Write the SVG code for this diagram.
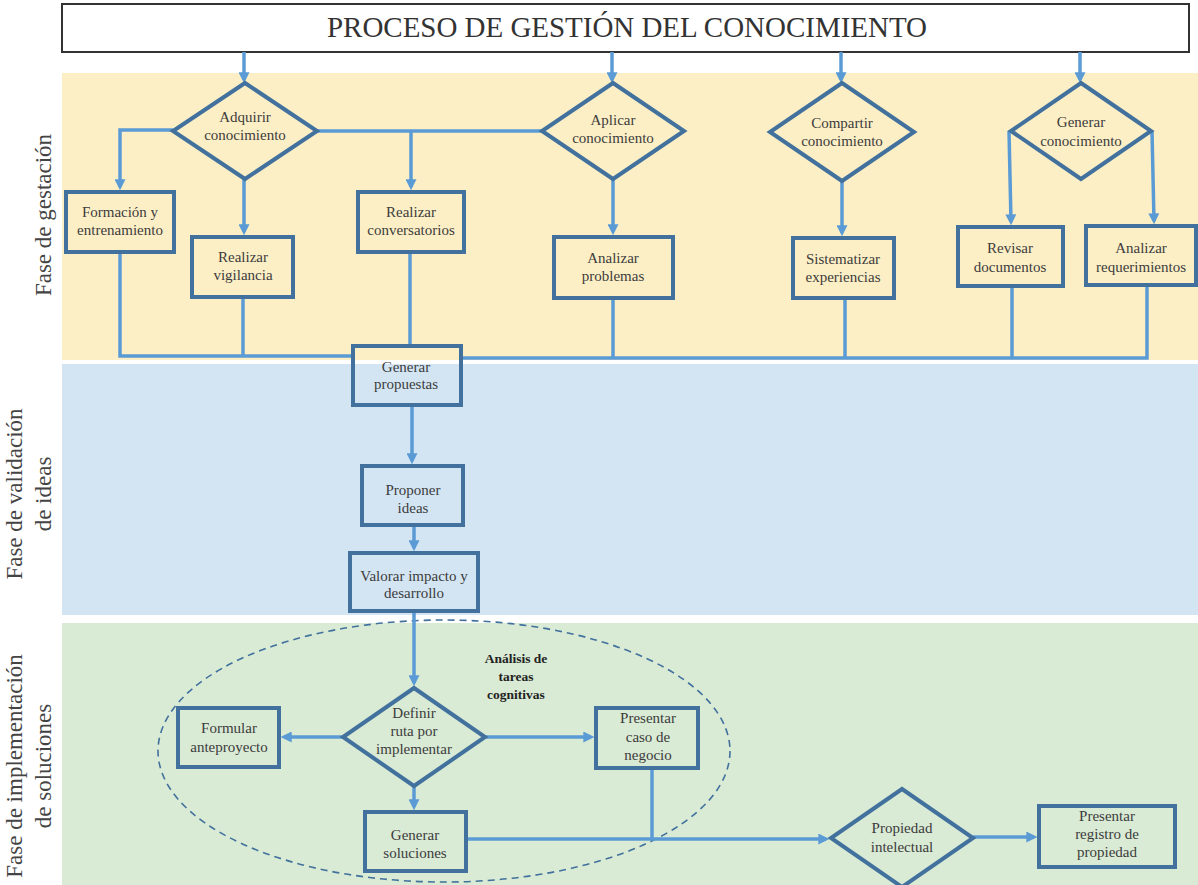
<svg xmlns="http://www.w3.org/2000/svg" width="1198" height="885" viewBox="0 0 1198 885">
  <style>
    .node { fill: none; stroke: #41719c; stroke-width: 4; }
    .lbl { font-family: "Liberation Serif", "DejaVu Serif", serif; font-size: 15px; fill: #3c3c3c; text-anchor: middle; }
    .bold { font-weight: bold; font-size: 13.5px; fill: #222; }
    .side { font-family: "Liberation Serif", "DejaVu Serif", serif; font-size: 23px; fill: #444; text-anchor: middle; }
    .conn { fill: none; stroke: #5b9bd5; stroke-width: 3.5; }
    .arr { marker-end: url(#head); }
  </style>
  <defs>
    <marker id="head" viewBox="0 0 10 10" refX="7" refY="5" markerWidth="11" markerHeight="11" markerUnits="userSpaceOnUse" orient="auto">
      <path d="M0,0 L10,5 L0,10 z" fill="#5b9bd5"/>
    </marker>
  </defs>

  <rect width="1198" height="885" fill="#ffffff"/>

  <!-- phase bands -->
  <g id="bands">
    <rect x="62" y="73" width="1136" height="287" fill="#fcefc6"/>
    <rect x="62" y="364" width="1136" height="251" fill="#d3e5f3"/>
    <rect x="62" y="623" width="1136" height="262" fill="#d9ead5"/>
  </g>

  <!-- phase labels -->
  <g id="phase-labels">
    <text class="side" transform="translate(51,215) rotate(-90)">Fase de gestación</text>
    <text class="side" transform="translate(22,494) rotate(-90)">Fase de validación</text>
    <text class="side" transform="translate(51,494) rotate(-90)">de ideas</text>
    <text class="side" transform="translate(22,766) rotate(-90)">Fase de implementación</text>
    <text class="side" transform="translate(51,766) rotate(-90)">de soluciones</text>
  </g>

  <!-- title -->
  <g id="title">
    <rect x="62" y="4" width="1127" height="48" fill="#ffffff" stroke="#333333" stroke-width="2"/>
    <text x="627" y="37" font-family="Liberation Serif, DejaVu Serif, serif" font-size="29" fill="#333333" text-anchor="middle" textLength="600">PROCESO DE GESTIÓN DEL CONOCIMIENTO</text>
  </g>

  <!-- cognitive-task grouping -->
  <g id="analisis-group">
    <ellipse cx="444" cy="751" rx="286" ry="131" fill="none" stroke="#41719c" stroke-width="1.6" stroke-dasharray="7,5"/>
    <text class="lbl bold" x="516" y="663">Análisis de</text>
    <text class="lbl bold" x="516" y="681">tareas</text>
    <text class="lbl bold" x="516" y="699">cognitivas</text>
  </g>

  <!-- connectors -->
  <g id="connectors">
    <path class="conn arr" d="M244,52 V80"/>
    <path class="conn arr" d="M612,52 V80"/>
    <path class="conn arr" d="M841,52 V80"/>
    <path class="conn arr" d="M1080,52 V80"/>
    <path class="conn arr" d="M173,130 H120 V187"/>
    <path class="conn arr" d="M244,179 V232"/>
    <path class="conn" d="M317,131 H542"/>
    <path class="conn arr" d="M411,131 V187"/>
    <path class="conn arr" d="M613,179 V232"/>
    <path class="conn arr" d="M842,181 V233"/>
    <path class="conn arr" d="M1009,131 L1011,222"/>
    <path class="conn arr" d="M1152,131 L1154,221"/>
    <path class="conn" d="M120,252 V356 H353"/>
    <path class="conn" d="M243,297 V356"/>
    <path class="conn" d="M410,252 V346"/>
    <path class="conn" d="M613,298 V358"/>
    <path class="conn" d="M845,298 V358"/>
    <path class="conn" d="M1012,286 V358"/>
    <path class="conn" d="M1147,285 V358 H461"/>
    <path class="conn arr" d="M412,405 V461"/>
    <path class="conn arr" d="M414,525 V548"/>
    <path class="conn arr" d="M414,611 V683"/>
    <path class="conn arr" d="M343,737 H284"/>
    <path class="conn arr" d="M485,737 H591"/>
    <path class="conn arr" d="M414,786 V807"/>
    <path class="conn arr" d="M466,839 H826"/>
    <path class="conn" d="M652,768 V839"/>
    <path class="conn arr" d="M973,837 H1034"/>
  </g>

  <!-- gestation phase -->
  <g id="adquirir">
    <polygon class="node" points="245,83 317,131 245,179 173,131"/>
    <text class="lbl" x="245" y="122">Adquirir</text>
    <text class="lbl" x="245" y="140">conocimiento</text>
  </g>
  <g id="aplicar">
    <polygon class="node" points="613,83 684,131 613,179 542,131"/>
    <text class="lbl" x="613" y="125">Aplicar</text>
    <text class="lbl" x="613" y="143">conocimiento</text>
  </g>
  <g id="compartir">
    <polygon class="node" points="842,83 914,132 842,181 770,132"/>
    <text class="lbl" x="842" y="128">Compartir</text>
    <text class="lbl" x="842" y="146">conocimiento</text>
  </g>
  <g id="generar-conocimiento">
    <polygon class="node" points="1081,83 1151,131 1081,179 1011,131"/>
    <text class="lbl" x="1081" y="127">Generar</text>
    <text class="lbl" x="1081" y="146">conocimiento</text>
  </g>
  <g id="formacion">
    <rect class="node" x="66" y="192" width="108" height="60"/>
    <text class="lbl" x="120" y="217">Formación y</text>
    <text class="lbl" x="120" y="235">entrenamiento</text>
  </g>
  <g id="vigilancia">
    <rect class="node" x="192" y="237" width="101" height="60"/>
    <text class="lbl" x="243" y="262">Realizar</text>
    <text class="lbl" x="243" y="280">vigilancia</text>
  </g>
  <g id="conversatorios">
    <rect class="node" x="358" y="192" width="106" height="60"/>
    <text class="lbl" x="411" y="217">Realizar</text>
    <text class="lbl" x="411" y="235">conversatorios</text>
  </g>
  <g id="problemas">
    <rect class="node" x="554" y="237" width="119" height="61"/>
    <text class="lbl" x="613" y="263">Analizar</text>
    <text class="lbl" x="613" y="281">problemas</text>
  </g>
  <g id="sistematizar">
    <rect class="node" x="793" y="238" width="101" height="60"/>
    <text class="lbl" x="843" y="264">Sistematizar</text>
    <text class="lbl" x="843" y="282">experiencias</text>
  </g>
  <g id="revisar">
    <rect class="node" x="958" y="227" width="105" height="59"/>
    <text class="lbl" x="1010" y="253">Revisar</text>
    <text class="lbl" x="1010" y="272">documentos</text>
  </g>
  <g id="requerimientos">
    <rect class="node" x="1086" y="226" width="110" height="59"/>
    <text class="lbl" x="1141" y="253">Analizar</text>
    <text class="lbl" x="1141" y="272">requerimientos</text>
  </g>

  <!-- validation phase -->
  <g id="propuestas">
    <rect class="node" x="353" y="346" width="108" height="59"/>
    <text class="lbl" x="406" y="372">Generar</text>
    <text class="lbl" x="406" y="389">propuestas</text>
  </g>
  <g id="proponer">
    <rect class="node" x="362" y="466" width="101" height="59"/>
    <text class="lbl" x="413" y="495">Proponer</text>
    <text class="lbl" x="413" y="513">ideas</text>
  </g>
  <g id="valorar">
    <rect class="node" x="350" y="553" width="128" height="58"/>
    <text class="lbl" x="414" y="581">Valorar impacto y</text>
    <text class="lbl" x="414" y="598">desarrollo</text>
  </g>

  <!-- implementation phase -->
  <g id="definir">
    <polygon class="node" points="414,688 485,737 414,786 343,737"/>
    <text class="lbl" x="414" y="718">Definir</text>
    <text class="lbl" x="414" y="736">ruta por</text>
    <text class="lbl" x="414" y="754">implementar</text>
  </g>
  <g id="formular">
    <rect class="node" x="178" y="708" width="101" height="59"/>
    <text class="lbl" x="229" y="733">Formular</text>
    <text class="lbl" x="229" y="752">anteproyecto</text>
  </g>
  <g id="caso-negocio">
    <rect class="node" x="596" y="708" width="102" height="60"/>
    <text class="lbl" x="648" y="723">Presentar</text>
    <text class="lbl" x="648" y="742">caso de</text>
    <text class="lbl" x="648" y="760">negocio</text>
  </g>
  <g id="soluciones">
    <rect class="node" x="365" y="812" width="101" height="59"/>
    <text class="lbl" x="415" y="840">Generar</text>
    <text class="lbl" x="415" y="858">soluciones</text>
  </g>
  <g id="propiedad">
    <polygon class="node" points="902,789 973,838 902,887 831,838"/>
    <text class="lbl" x="902" y="833">Propiedad</text>
    <text class="lbl" x="902" y="852">intelectual</text>
  </g>
  <g id="registro">
    <rect class="node" x="1039" y="806" width="136" height="61"/>
    <text class="lbl" x="1107" y="821">Presentar</text>
    <text class="lbl" x="1107" y="839">registro de</text>
    <text class="lbl" x="1107" y="857">propiedad</text>
  </g>
</svg>
